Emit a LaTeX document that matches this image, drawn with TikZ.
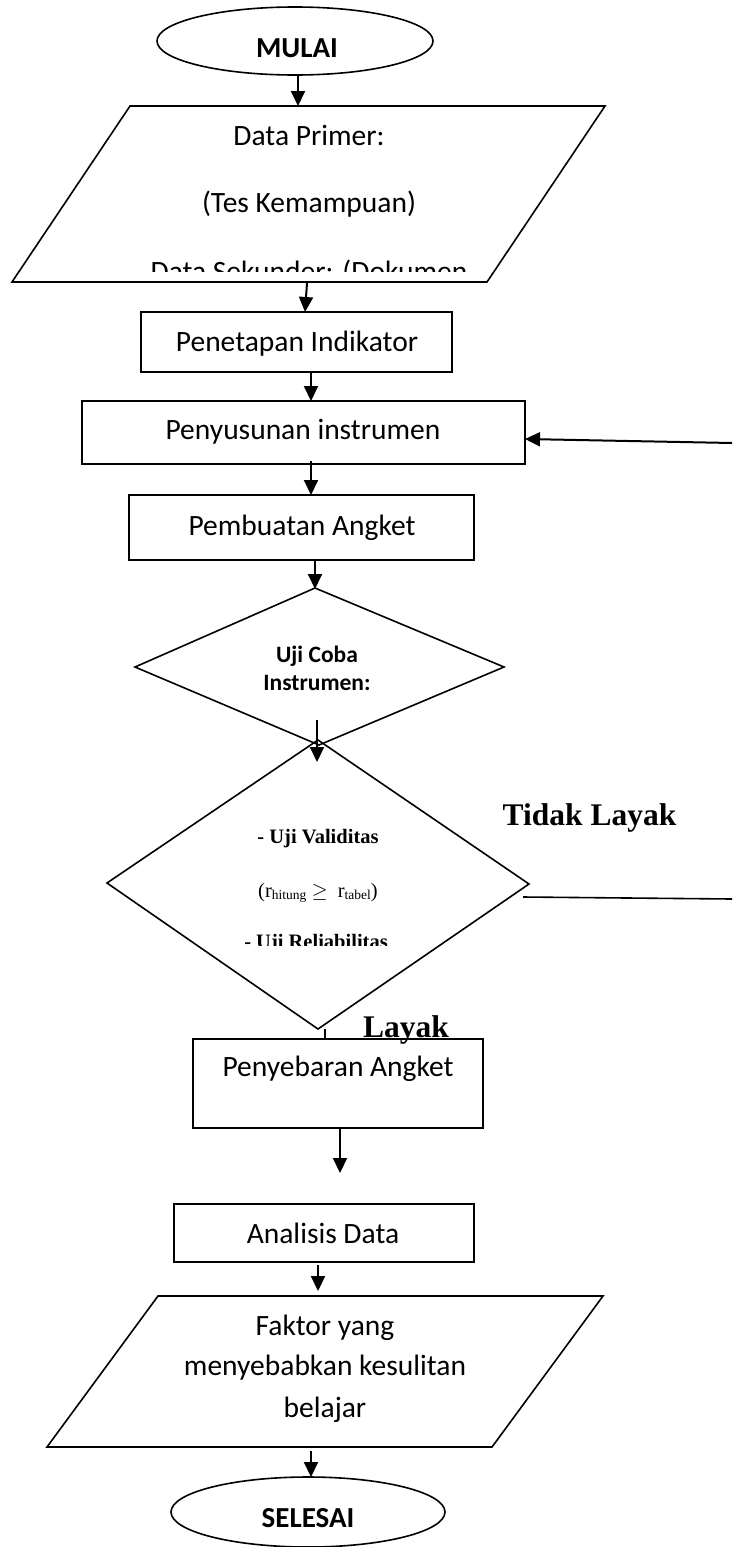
\documentclass[tikz,border=0pt]{standalone}
\usepackage{fontspec}
\setmainfont{Carlito}
\newfontfamily\tnr{Liberation Serif}
\usetikzlibrary{arrows.meta,shapes.geometric}
\begin{document}
\begin{tikzpicture}[x=1pt,y=-1pt,
  outline/.style={draw,line width=1.6pt,line join=miter},
  box/.style={draw,line width=1.6pt,rectangle,inner sep=0pt},
  oval/.style={draw,line width=1.6pt,ellipse,inner sep=0pt},
  arr/.style={line width=2pt,-{Triangle[width=14pt,length=15pt]}},
  plainline/.style={line width=1.6pt},
  txt/.style={anchor=base,inner sep=0pt,font=\fontsize{29.5}{30}\selectfont},
  btxt/.style={anchor=base,inner sep=0pt,font=\fontsize{29}{30}\selectfont\bfseries},
  stxt/.style={anchor=base,inner sep=0pt,font=\fontsize{23.5}{24}\selectfont\bfseries},
  ttxt/.style={anchor=base,inner sep=0pt,font=\tnr\fontsize{20.5}{21}\selectfont\bfseries},
  rtxt/.style={anchor=base,inner sep=0pt,font=\tnr\fontsize{20.5}{21}\selectfont},
  ltxt/.style={anchor=base,inner sep=0pt,font=\tnr\fontsize{31.5}{32}\selectfont\bfseries}]
\useasboundingbox (0,0) rectangle (732,1547);
\fill[white] (0,0) rectangle (732,1547);

% ---------- shapes ----------
\node[oval,minimum width=276pt,minimum height=68pt] (mulai) at (295,41) {};
\node[btxt] (tmulai) at (297,57) {MULAI};

\coordinate (i1a) at (12,282); \coordinate (i1b) at (487,282);
\coordinate (i1c) at (605,106); \coordinate (i1d) at (130,106);
\draw[outline] (i1a) -- (i1b) -- (i1c) -- (i1d) -- cycle;
\node[txt] (tdp) at (309,145) {Data Primer:};
\node[txt] (ttk) at (309,212) {(Tes Kemampuan)};
\begin{scope}
  \clip (0,0) rectangle (732,271);
  \node[txt] (tds) at (309,281) {Data Sekunder: (Dokumen};
\end{scope}

\node[box,minimum width=311pt,minimum height=60pt] (pen) at (296.5,342) {};
\node[txt] (tpen) at (297,351) {Penetapan Indikator};

\node[box,minimum width=443pt,minimum height=63pt] (pny) at (303.5,432.5) {};
\node[txt] (tpny) at (303,439) {Penyusunan instrumen};

\node[box,minimum width=345pt,minimum height=65pt] (pmb) at (301.5,527.5) {};
\node[txt] (tpmb) at (302,535) {Pembuatan Angket};

\coordinate (d1t) at (315,588); \coordinate (d1r) at (504,667);
\coordinate (d1b) at (319,745); \coordinate (d1l) at (135,667);
\draw[outline] (d1t) -- (d1r) -- (d1b) -- (d1l) -- cycle;
\node[stxt] (tuc) at (317,662) {Uji Coba};
\node[stxt] (tins) at (317,690) {Instrumen:};

\coordinate (d2t) at (318,740); \coordinate (d2r) at (529,884);
\coordinate (d2b) at (318,1029); \coordinate (d2l) at (107,883);
\draw[outline] (d2t) -- (d2r) -- (d2b) -- (d2l) -- cycle;
\node[ttxt] (tuv) at (318,843) {- Uji Validitas};
\node[rtxt] (tr) at (318,897) {(r\raisebox{-2pt}{\fontsize{13.5}{14}\selectfont hitung} $\geq$\ \ r\raisebox{-2pt}{\fontsize{13.5}{14}\selectfont tabel})};
\begin{scope}
  \clip (0,0) rectangle (732,945);
  \node[ttxt] (tur) at (316,948) {- Uji Reliabilitas};
\end{scope}

\node[ltxt] (ttl) at (589.5,825) {Tidak Layak};
\node[ltxt] (tl) at (406,1037) {Layak};

\node[box,minimum width=290pt,minimum height=89pt] (pyb) at (338,1083.5) {};
\node[txt] (tpyb) at (338,1076) {Penyebaran Angket};

\node[box,minimum width=300pt,minimum height=58pt] (ana) at (324,1233) {};
\node[txt] (tana) at (323,1243) {Analisis Data};

\coordinate (i2a) at (47,1447); \coordinate (i2b) at (492,1447);
\coordinate (i2c) at (603,1296); \coordinate (i2d) at (158,1296);
\draw[outline] (i2a) -- (i2b) -- (i2c) -- (i2d) -- cycle;
\node[txt] (tf1) at (325,1335) {Faktor yang};
\node[txt] (tf2) at (325,1375) {menyebabkan kesulitan};
\node[txt] (tf3) at (325,1417) {belajar};

\node[oval,minimum width=274pt,minimum height=70pt] (selesai) at (308,1512) {};
\node[btxt] (tsel) at (308,1527) {SELESAI};

% ---------- connectors ----------
\coordinate (a1s) at (298,75);   \coordinate (a1e) at (298,106);
\coordinate (a2s) at (307,283);  \coordinate (a2e) at (305,312);
\coordinate (a3s) at (311,372);  \coordinate (a3e) at (311,401);
\coordinate (a4s) at (732,443);  \coordinate (a4e) at (525,439);
\coordinate (a5s) at (311,461);  \coordinate (a5e) at (311,495);
\coordinate (a6s) at (315,560);  \coordinate (a6e) at (315,589);
\coordinate (a7s) at (317,720);  \coordinate (a7e) at (317,762);
\coordinate (l1s) at (523,897);  \coordinate (l1e) at (732,899);
\coordinate (l2s) at (325,1029); \coordinate (l2e) at (325,1039);
\coordinate (a8s) at (340,1128); \coordinate (a8e) at (340,1173);
\coordinate (a9s) at (318,1265); \coordinate (a9e) at (318,1291);
\coordinate (a10s) at (311,1451); \coordinate (a10e) at (311,1477);

\draw[arr] (a1s) -- (a1e);
\draw[arr] (a2s) -- (a2e);
\draw[arr] (a3s) -- (a3e);
\draw[arr] (a4s) -- (a4e);
\draw[arr] (a5s) -- (a5e);
\draw[arr] (a6s) -- (a6e);
\draw[arr] (a7s) -- (a7e);
\draw[plainline] (l1s) -- (l1e);
\draw[plainline] (l2s) -- (l2e);
\draw[arr] (a8s) -- (a8e);
\draw[arr] (a9s) -- (a9e);
\draw[arr] (a10s) -- (a10e);
\end{tikzpicture}
\end{document}
